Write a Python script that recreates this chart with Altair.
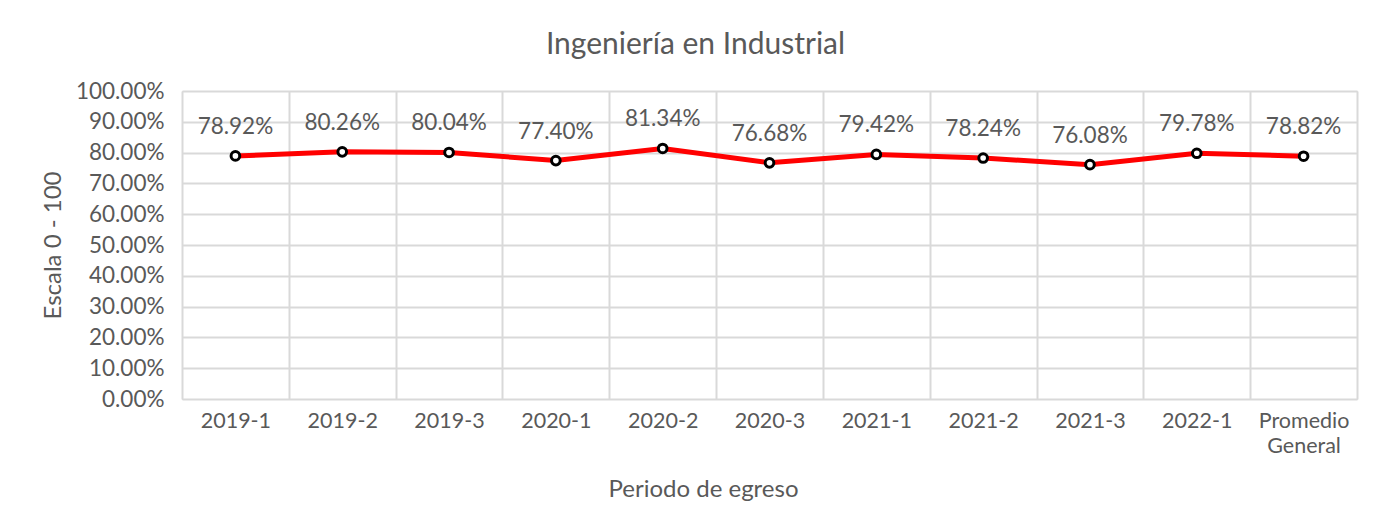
import altair as alt
import pandas as pd

periodos = ["2019-1", "2019-2", "2019-3", "2020-1", "2020-2", "2020-3",
            "2021-1", "2021-2", "2021-3", "2022-1", "Promedio General"]
valores = [0.7892, 0.8026, 0.8004, 0.7740, 0.8134, 0.7668,
           0.7942, 0.7824, 0.7608, 0.7978, 0.7882]
y_ticks = [i / 10 for i in range(11)]

df = pd.DataFrame({"periodo": periodos, "valor": valores})

FONT = "Lato"
GRAY = "#595959"
GRID = "#d9d9d9"

x_enc = alt.X(
    "periodo:N", sort=periodos,
    scale=alt.Scale(type="band", paddingInner=0, paddingOuter=0),
    axis=alt.Axis(
        title="Periodo de egreso", labelAngle=0, tickBand="extent",
        grid=True, gridColor=GRID, gridWidth=2, ticks=False, domain=False,
        labelFont=FONT, labelFontSize=21.5, labelColor=GRAY, labelPadding=11,
        labelExpr="datum.value == 'Promedio General' ? ['Promedio', 'General'] : datum.value",
        labelLineHeight=25,
        titleFont=FONT, titleFontSize=24, titleFontWeight="normal", titleColor=GRAY,
        titlePadding=21, titleX=521, titleAlign="center",
    ),
)
y_enc = alt.Y(
    "valor:Q",
    scale=alt.Scale(domain=[0, 1], nice=False),
    axis=alt.Axis(
        title="Escala 0 - 100", values=y_ticks, format=".2%",
        grid=True, gridColor=GRID, gridWidth=2, ticks=False, domain=False,
        labelFont=FONT, labelFontSize=22.5, labelColor=GRAY, labelPadding=18,
        titleFont=FONT, titleFontSize=24, titleFontWeight="normal", titleColor=GRAY,
        titlePadding=10,
    ),
)

base = alt.Chart(df).encode(x=x_enc, y=y_enc)

line = base.mark_line(color="#ff0000", strokeWidth=5)
points = base.mark_point(filled=True, fill="white", stroke="black",
                         strokeWidth=3, size=75, opacity=1)
labels = base.mark_text(dy=-29, font=FONT, fontSize=22.5, color=GRAY).encode(
    text=alt.Text("valor:Q", format=".2%")
)

chart = alt.layer(line, points, labels).properties(
    width=1175, height=308,
    title=alt.TitleParams("Ingeniería en Industrial", font=FONT, fontSize=30,
                          fontWeight="normal", color=GRAY, dx=-74, offset=20),
    autosize=alt.AutoSizeParams(type="none"),
    padding={"left": 174, "top": 83, "right": 25, "bottom": 125},
).configure_view(stroke=GRID, strokeWidth=2).configure(background="white")

chart.save("out.html", embed_options={"renderer": "svg", "actions": False})
